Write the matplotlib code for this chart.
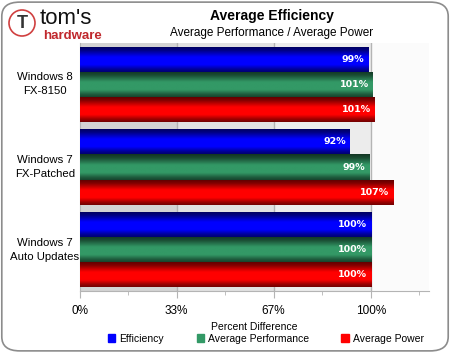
import matplotlib
matplotlib.use('Agg')
import matplotlib.pyplot as plt
import numpy as np
from matplotlib.patches import FancyBboxPatch, Circle
from matplotlib.transforms import IdentityTransform

plt.rcParams['font.family'] = ['Liberation Sans', 'DejaVu Sans']

categories = ['Windows 8\nFX-8150', 'Windows 7\nFX-Patched', 'Windows 7\nAuto Updates']
series = ['Efficiency', 'Average Performance', 'Average Power']
efficiency = [99.0, 92.6, 100.0]
performance = [100.6, 99.3, 100.0]
power = [101.2, 107.5, 100.0]
labels_eff = ['99%', '92%', '100%']
labels_perf = ['101%', '99%', '100%']
labels_pow = ['101%', '107%', '100%']
tick_vals = [0, 100 / 3, 200 / 3, 100]
tick_labels = ['0%', '33%', '67%', '100%']

base_colors = [(0.0, 0.0, 1.0), (0.2, 0.6, 0.4), (1.0, 0.0, 0.0)]


def gradient(color, n=60):
    # dark top, bright middle, dark bottom
    t = np.linspace(0, 1, n)
    f = np.interp(t, [0, 0.15, 0.42, 0.72, 0.9, 1], [0.35, 0.5, 1.0, 1.0, 0.6, 0.45])
    rgb = np.array(color)[None, :] * f[:, None]
    return np.repeat(rgb[:, None, :], 2, axis=1)


fig = plt.figure(figsize=(4.5, 3.53), dpi=100)
ax = fig.add_axes([79.5 / 450, 1 - 291 / 353, 349.5 / 450, 248 / 353])

# background bands
band_cols = ['#d3d3d3', '#e1e1e1', '#ececec', '#fbfbfb']
edges = tick_vals + [120]
for i in range(4):
    ax.axvspan(edges[i], edges[i + 1], color=band_cols[i], zorder=0, lw=0)
for v in tick_vals[1:]:
    ax.axvline(v, color='#b4b4b4', lw=1, zorder=1)

y = np.arange(len(categories))
h = 0.305
values = [efficiency, performance, power]
texts = [labels_eff, labels_perf, labels_pow]
for k in range(3):
    bars = ax.barh(y + (k - 1) * h, values[k], height=h, color=base_colors[k], zorder=2, lw=0)
    for b, lab in zip(bars, texts[k]):
        x0, y0 = b.get_x(), b.get_y()
        w, bh = b.get_width(), b.get_height()
        im = ax.imshow(gradient(base_colors[k]), extent=(x0, x0 + w, y0 + bh, y0),
                       origin='upper', aspect='auto', zorder=3, interpolation='bilinear')
        im.set_clip_path(b)
        ax.text(x0 + w - 1.2, y0 + bh / 2, lab, color='white', fontsize=6.8,
                fontweight='bold', ha='right', va='center', zorder=4,
                family=['DejaVu Sans'])

ax.set_xlim(0, 120)
ax.set_ylim(2.5, -0.5)
ax.set_yticks(y)
ax.set_yticklabels(categories, fontsize=8.2, linespacing=1.5, ha='center', va='center')
ax.tick_params(axis='y', length=0, pad=25)
ax.set_xticks(tick_vals)
ax.set_xticklabels(tick_labels, fontsize=8.5)
ax.set_xticks([50 / 3, 50, 250 / 3, 350 / 3], minor=True)
ax.tick_params(axis='x', which='major', length=5, color='#b4b4b4', pad=5)
ax.tick_params(axis='x', which='minor', length=3, color='#b4b4b4')
for s in ['top', 'right']:
    ax.spines[s].set_visible(False)
ax.spines['left'].set_color('#b4b4b4')
ax.spines['bottom'].set_color('#b4b4b4')
ax.set_xlabel('Percent Difference', fontsize=7.5, labelpad=4)

# legend
handles = [plt.Rectangle((0, 0), 1, 1, color=c) for c in base_colors]
fig.legend(handles, series, loc='center', bbox_to_anchor=(266 / 450, 1 - 338.5 / 353),
           ncol=3, frameon=False, fontsize=7.5, handlelength=0.7, handleheight=0.7,
           handletextpad=0.4, columnspacing=3.1)

# titles
fig.text(272 / 450, 1 - 16 / 353, 'Average Efficiency', ha='center', va='center',
         fontsize=10, fontweight='bold')
fig.text(272 / 450, 1 - 33 / 353, 'Average Performance / Average Power', ha='center',
         va='center', fontsize=8.5)

# logo
fig.text(40 / 450, 1 - 18 / 353, "tom's", ha='left', va='center', fontsize=16,
         color='#111111')
fig.text(43 / 450, 1 - 36 / 353, 'hardware', ha='left', va='center', fontsize=9.5,
         fontweight='bold', color='#c0282d')
fig.patches.append(Circle((22, 353 - 23), 13, transform=IdentityTransform(),
                          fill=False, ec='#d04040', lw=1.2))
fig.text(22 / 450, 1 - 23 / 353, 'T', ha='center', va='center', fontsize=13,
         fontweight='bold', color='#333333')

# rounded border
fig.patches.append(FancyBboxPatch((0.004, 0.006), 0.992, 0.988,
                                  boxstyle='round,pad=0,rounding_size=0.04',
                                  transform=fig.transFigure, fill=False,
                                  ec='#8c8c8c', lw=1.2))

fig.savefig('out.png', dpi=100)
